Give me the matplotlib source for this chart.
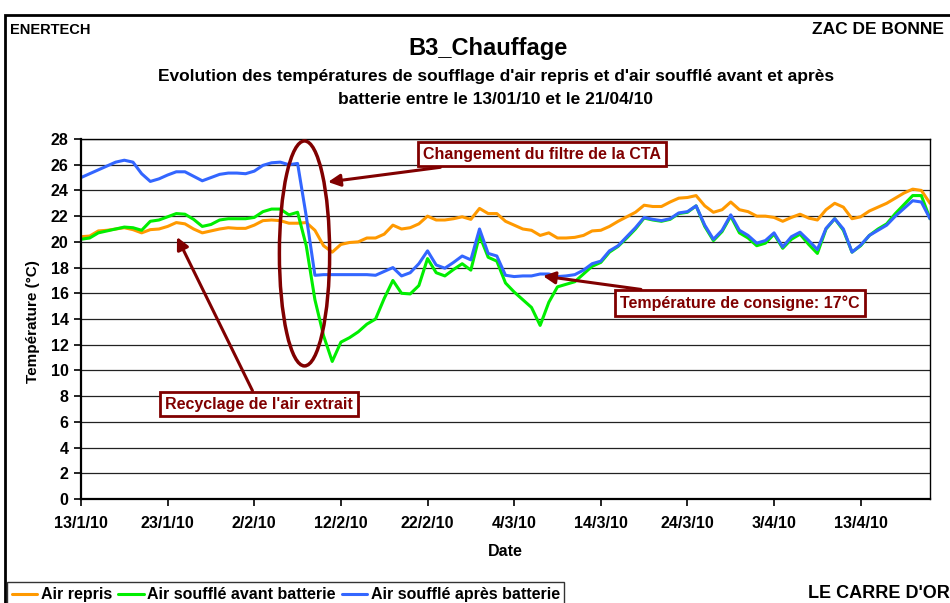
import numpy as np
import pandas as pd
import matplotlib
matplotlib.use('Agg')
import matplotlib.pyplot as plt
import matplotlib.dates as mdates
from matplotlib import font_manager
from matplotlib.patches import Ellipse, Rectangle

plt.rcParams['font.family'] = ['Liberation Sans', 'DejaVu Sans']
plt.rcParams['font.weight'] = 'bold'

# daily readings 13/01/10 .. 21/04/10
dates = pd.date_range('2010-01-13', '2010-04-21', freq='D')

air_repris = [
    20.4, 20.45, 20.85, 20.9, 21.0, 21.1, 20.95, 20.7, 20.95, 21.0,
    21.2, 21.5, 21.4, 21.0, 20.7, 20.85, 21.0, 21.1, 21.05, 21.05,
    21.3, 21.65, 21.7, 21.65, 21.45, 21.45, 21.5, 20.9, 19.7, 19.2,
    19.8, 19.95, 20.0, 20.3, 20.3, 20.6, 21.3, 21.0, 21.1, 21.4,
    22.0, 21.7, 21.7, 21.8, 21.95, 21.75, 22.6, 22.2, 22.2, 21.6,
    21.3, 21.0, 20.9, 20.5, 20.7, 20.3, 20.3, 20.35, 20.5, 20.85,
    20.9, 21.2, 21.6, 21.95, 22.3, 22.85, 22.75, 22.75, 23.1, 23.4,
    23.45, 23.6, 22.8, 22.3, 22.5, 23.1, 22.5, 22.35, 22.0, 22.0,
    21.9, 21.6, 21.9, 22.15, 21.85, 21.7, 22.5, 23.0, 22.7, 21.8,
    21.95, 22.4, 22.7, 23.0, 23.4, 23.8, 24.1, 24.0, 23.0]

air_avant_batterie = [
    20.2, 20.3, 20.7, 20.85, 21.0, 21.15, 21.1, 20.9, 21.6, 21.7,
    21.95, 22.2, 22.15, 21.75, 21.2, 21.35, 21.7, 21.8, 21.8, 21.8,
    21.9, 22.35, 22.55, 22.55, 22.1, 22.3, 19.7, 15.5, 12.7, 10.7,
    12.2, 12.55, 13.0, 13.6, 14.0, 15.6, 17.0, 16.0, 15.95, 16.6,
    18.7, 17.6, 17.35, 17.85, 18.3, 17.8, 20.5, 18.8, 18.5, 16.8,
    16.1, 15.5, 14.9, 13.5, 15.3, 16.5, 16.7, 16.9, 17.5, 18.1,
    18.4, 19.2, 19.65, 20.3, 21.0, 21.85, 21.7, 21.6, 21.75, 22.2,
    22.3, 22.8, 21.2, 20.1, 20.8, 22.0, 20.7, 20.3, 19.7, 19.9,
    20.6, 19.5, 20.2, 20.6, 19.8, 19.1, 21.0, 21.8, 20.9, 19.2,
    19.7, 20.5, 21.0, 21.4, 22.2, 22.9, 23.6, 23.6, 21.8]

air_apres_batterie = [
    25.0, 25.3, 25.6, 25.9, 26.2, 26.35, 26.2, 25.3, 24.7, 24.9,
    25.2, 25.45, 25.45, 25.1, 24.75, 25.0, 25.25, 25.35, 25.35, 25.3,
    25.5, 25.95, 26.15, 26.2, 26.0, 26.1, 22.0, 17.4, 17.45, 17.45,
    17.45, 17.45, 17.45, 17.45, 17.4, 17.7, 18.0, 17.35, 17.6, 18.3,
    19.3, 18.2, 17.95, 18.4, 18.9, 18.6, 21.0, 19.1, 18.9, 17.4,
    17.3, 17.35, 17.35, 17.5, 17.5, 17.3, 17.35, 17.45, 17.8, 18.3,
    18.5, 19.3, 19.7, 20.4, 21.1, 21.9, 21.75, 21.65, 21.8, 22.25,
    22.35, 22.8, 21.3, 20.2, 20.9, 22.1, 20.9, 20.5, 19.9, 20.1,
    20.7, 19.6, 20.4, 20.75, 20.1, 19.4, 21.05, 21.8, 21.0, 19.2,
    19.75, 20.5, 20.9, 21.3, 22.0, 22.6, 23.2, 23.1, 21.8]

series_names = ['Air repris', 'Air soufflé avant batterie', 'Air soufflé après batterie']
series_colors = ['#FF9900', '#00EE00', '#3366FF']

tick_dates = pd.date_range('2010-01-13', periods=10, freq='10D')
tick_labels = ['13/1/10', '23/1/10', '2/2/10', '12/2/10', '22/2/10',
               '4/3/10', '14/3/10', '24/3/10', '3/4/10', '13/4/10']

dark_red = '#800000'

# narrow font for the page header, if present
installed = {f.name for f in font_manager.fontManager.ttflist}
if 'Liberation Sans Narrow' in installed:
    head_font, head_size = ['Liberation Sans Narrow'], 13
else:
    head_font, head_size = ['Liberation Sans'], 10.5

fig = plt.figure(figsize=(9.5, 6.03), dpi=100)
ax = fig.add_axes([81/950, 1-499/603, (930-81)/950, (499-139)/603])

for vals, name, col in zip([air_repris, air_avant_batterie, air_apres_batterie],
                           series_names, series_colors):
    ax.plot(dates, vals, color=col, lw=2.2, label=name,
            solid_joinstyle='round', solid_capstyle='round')

ax.set_xlim(dates[0], dates[-1])
ax.set_ylim(0, 28)
ax.set_yticks(range(0, 29, 2))
ax.set_xticks(tick_dates)
ax.set_xticklabels(tick_labels)
ax.tick_params(axis='both', labelsize=11.5, direction='out', length=5, width=1.2)
ax.tick_params(axis='x', pad=7)
ax.tick_params(axis='y', pad=4)
for lab in ax.get_xticklabels() + ax.get_yticklabels():
    lab.set_fontweight('bold')
ax.yaxis.grid(True, color='#222222', lw=0.9)
ax.set_axisbelow(True)
for s in ['left', 'bottom']:
    ax.spines[s].set_linewidth(1.6)
for s in ['top', 'right']:
    ax.spines[s].set_linewidth(1.0)

# annotations
x0 = mdates.date2num(dates[0])
ell = Ellipse((x0 + 25.8, 19.1), width=5.8, height=17.5,
              fill=False, ec=dark_red, lw=2.5, zorder=5)
ax.add_patch(ell)

box = dict(boxstyle='square,pad=0.3', fc='white', ec=dark_red, lw=2)
arrow = dict(arrowstyle='-|>', color=dark_red, lw=2.2, mutation_scale=18, shrinkA=0, shrinkB=0)
ax.annotate('Changement du filtre de la CTA', xy=(328, 603-182), xycoords='figure pixels',
            xytext=(542, 603-154), textcoords='figure pixels', ha='center', va='center',
            fontsize=11.5, fontweight='bold', color=dark_red, bbox=box, arrowprops=arrow, zorder=6)
ax.annotate('Température de consigne: 17°C', xy=(543, 603-276), xycoords='figure pixels',
            xytext=(740, 603-303), textcoords='figure pixels', ha='center', va='center',
            fontsize=11.5, fontweight='bold', color=dark_red, bbox=box, arrowprops=arrow, zorder=6)
ax.annotate("Recyclage de l'air extrait", xy=(177, 603-237), xycoords='figure pixels',
            xytext=(259, 603-404), textcoords='figure pixels', ha='center', va='center',
            fontsize=11.5, fontweight='bold', color=dark_red, bbox=box, arrowprops=arrow, zorder=6)

# texts
fig.text(10/950, 1-30/603, 'ENERTECH', family=head_font, fontsize=head_size,
         fontweight='bold', va='center')
fig.text(812/950, 1-30/603, 'ZAC DE BONNE', fontsize=12.5, fontweight='bold', va='center')
fig.text(488/950, 1-48/603, 'B3_Chauffage', fontsize=17, fontweight='bold', ha='center', va='center')
fig.text(496/950, 1-76/603, "Evolution des températures de soufflage d'air repris et d'air soufflé avant et après",
         fontsize=12.5, fontweight='bold', ha='center', va='center')
fig.text(496/950, 1-100/603, 'batterie entre le 13/01/10 et le 21/04/10',
         fontsize=12.5, fontweight='bold', ha='center', va='center')
fig.text(33/950, 1-322/603, 'Température (°C)', rotation=90, fontsize=11, fontweight='bold',
         ha='center', va='center')
fig.text(505/950, 1-552/603, 'Date', fontsize=11.5, fontweight='bold', ha='center', va='center')
fig.text(808/950, 1-594/603, "LE CARRE D'OR", fontsize=13, fontweight='bold', va='center')

# outer frame
fig.add_artist(Rectangle((5/950, -0.2), 1.2, 0.2 + 588/603, transform=fig.transFigure,
                         fill=False, ec='black', lw=2))

leg = fig.legend(loc='lower left', bbox_to_anchor=(7/950, -4/603), ncol=3,
                 prop={'weight': 'bold', 'size': 11.5}, frameon=True, fancybox=False,
                 edgecolor='black', handlelength=1.6, handletextpad=0.2, columnspacing=0.4,
                 borderpad=0.3, borderaxespad=0)
leg.get_frame().set_linewidth(1)
for h in leg.get_lines():
    h.set_linewidth(2.2)

fig.savefig('out.png', dpi=100)
